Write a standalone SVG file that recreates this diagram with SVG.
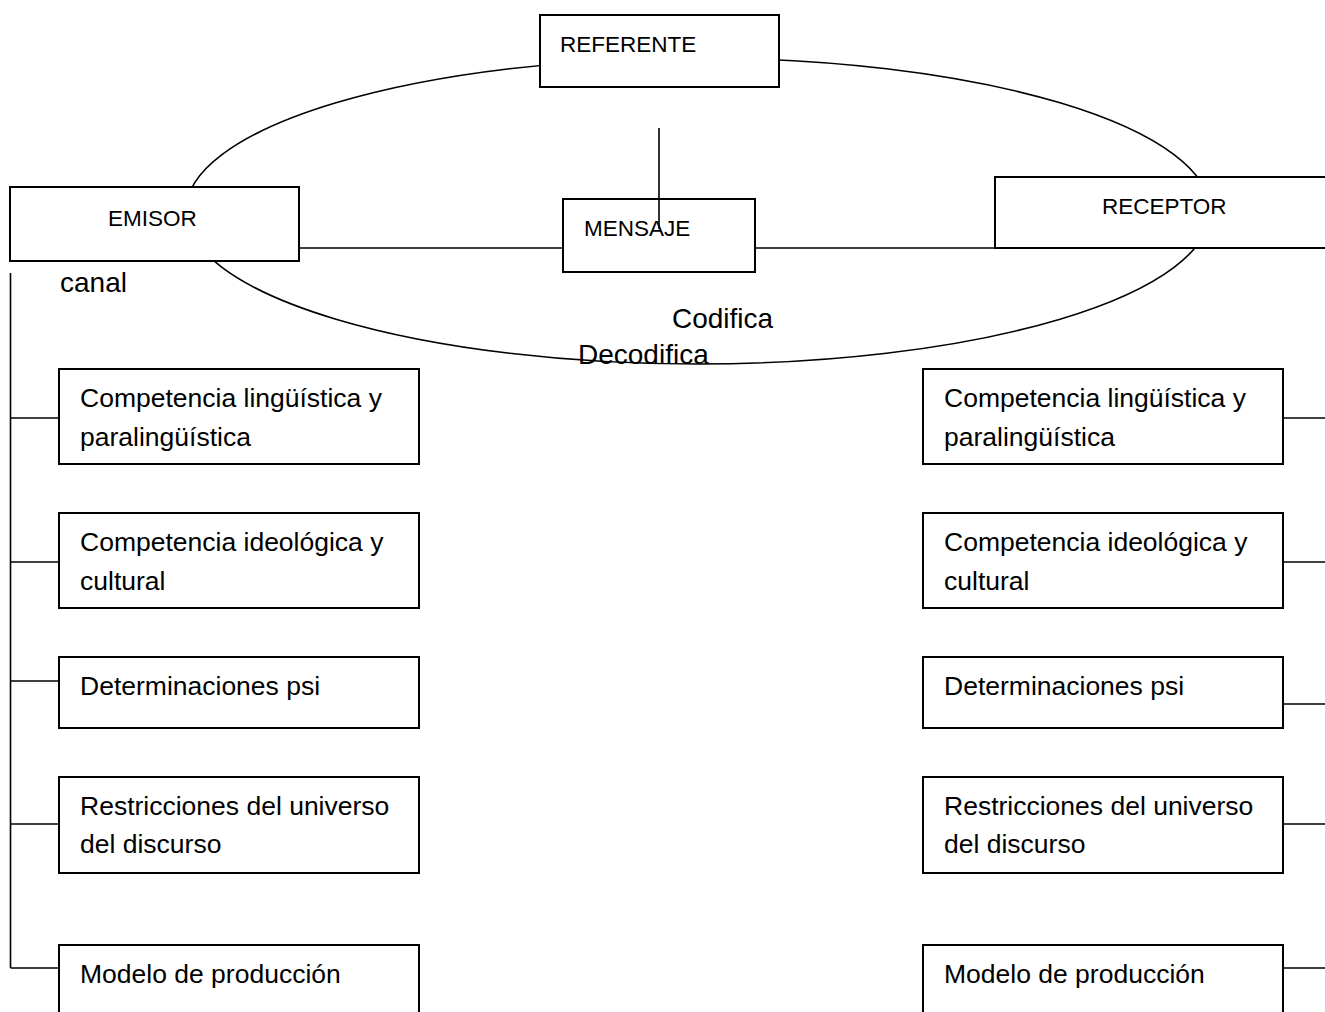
<svg xmlns="http://www.w3.org/2000/svg" width="1325" height="1012" viewBox="0 0 1325 1012">
<style>
.box{fill:#fff;stroke:#000;stroke-width:2}
.ln{fill:none;stroke:#000;stroke-width:1.6}
.lb{font-family:"Liberation Sans",Arial,sans-serif;font-size:22.5px;fill:#000}
.tx{font-family:"Liberation Sans",Arial,sans-serif;font-size:26.5px;fill:#000}
.ar{font-family:"Liberation Sans",Arial,sans-serif;font-size:28px;fill:#000}
</style>
<rect width="1325" height="1012" fill="#fff"/>
<g id="connectors">
<ellipse class="ln" cx="698" cy="211" rx="512" ry="153" stroke-width="1.3"/>
<line class="ln" x1="299" y1="248" x2="563" y2="248"/>
<line class="ln" x1="755" y1="248" x2="995" y2="248"/>
<line class="ln" x1="10.5" y1="273" x2="10.5" y2="968"/>
<line class="ln" x1="10.5" y1="418" x2="59" y2="418"/>
<line class="ln" x1="10.5" y1="562" x2="59" y2="562"/>
<line class="ln" x1="10.5" y1="681" x2="59" y2="681"/>
<line class="ln" x1="10.5" y1="824" x2="59" y2="824"/>
<line class="ln" x1="10.5" y1="968" x2="59" y2="968"/>
<line class="ln" x1="1283" y1="418" x2="1325" y2="418"/>
<line class="ln" x1="1283" y1="562" x2="1325" y2="562"/>
<line class="ln" x1="1283" y1="704" x2="1325" y2="704"/>
<line class="ln" x1="1283" y1="824" x2="1325" y2="824"/>
<line class="ln" x1="1283" y1="968" x2="1325" y2="968"/>
</g>
<g id="referente"><rect class="box" x="540" y="15" width="239" height="72"/><text class="lb" x="560" y="52">REFERENTE</text></g>
<g id="emisor"><rect class="box" x="10" y="187" width="289" height="74"/><text class="lb" x="108" y="226">EMISOR</text></g>
<g id="mensaje"><rect class="box" x="563" y="199" width="192" height="73"/><text class="lb" x="584" y="236">MENSAJE</text></g>
<g id="receptor"><rect class="box" x="995" y="177" width="340" height="71"/><text class="lb" x="1102" y="214">RECEPTOR</text></g>
<g id="connector-ref-msg"><line class="ln" x1="659" y1="128" x2="659" y2="229"/></g>
<g id="labels">
<text class="ar" x="60" y="292">canal</text>
<text class="ar" x="672" y="328">Codifica</text>
<text class="ar" x="578" y="364">Decodifica</text>
</g>
<g id="e-ling"><rect class="box" x="59" y="369" width="360" height="95"/><text class="tx" x="80" y="407">Competencia lingüística y</text><text class="tx" x="80" y="446">paralingüística</text></g>
<g id="e-ideo"><rect class="box" x="59" y="513" width="360" height="95"/><text class="tx" x="80" y="551">Competencia ideológica y</text><text class="tx" x="80" y="590">cultural</text></g>
<g id="e-psi"><rect class="box" x="59" y="657" width="360" height="71"/><text class="tx" x="80" y="695">Determinaciones psi</text></g>
<g id="e-restr"><rect class="box" x="59" y="777" width="360" height="96"/><text class="tx" x="80" y="815">Restricciones del universo</text><text class="tx" x="80" y="853">del discurso</text></g>
<g id="e-modelo"><rect class="box" x="59" y="945" width="360" height="90"/><text class="tx" x="80" y="983">Modelo de producción</text></g>
<g id="r-ling"><rect class="box" x="923" y="369" width="360" height="95"/><text class="tx" x="944" y="407">Competencia lingüística y</text><text class="tx" x="944" y="446">paralingüística</text></g>
<g id="r-ideo"><rect class="box" x="923" y="513" width="360" height="95"/><text class="tx" x="944" y="551">Competencia ideológica y</text><text class="tx" x="944" y="590">cultural</text></g>
<g id="r-psi"><rect class="box" x="923" y="657" width="360" height="71"/><text class="tx" x="944" y="695">Determinaciones psi</text></g>
<g id="r-restr"><rect class="box" x="923" y="777" width="360" height="96"/><text class="tx" x="944" y="815">Restricciones del universo</text><text class="tx" x="944" y="853">del discurso</text></g>
<g id="r-modelo"><rect class="box" x="923" y="945" width="360" height="90"/><text class="tx" x="944" y="983">Modelo de producción</text></g>
</svg>
